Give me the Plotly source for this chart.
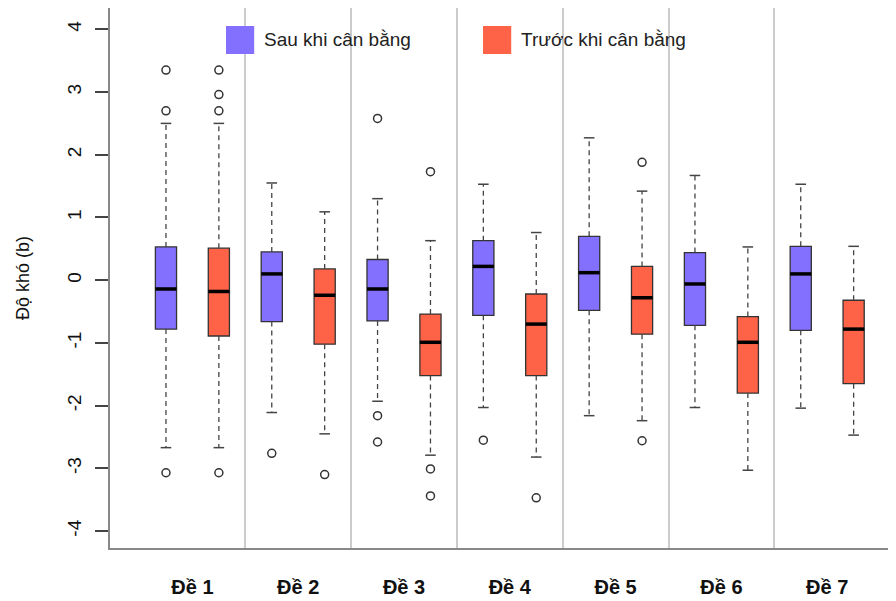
import plotly.graph_objects as go

# ---------------- data ----------------
groups = ["Đề 1", "Đề 2", "Đề 3", "Đề 4", "Đề 5", "Đề 6", "Đề 7"]
series_names = ["Sau khi cân bằng", "Trước khi cân bằng"]

after_q1 = [-0.78, -0.66, -0.65, -0.56, -0.48, -0.72, -0.80]
after_med = [-0.14, 0.10, -0.14, 0.22, 0.12, -0.06, 0.10]
after_q3 = [0.53, 0.45, 0.33, 0.63, 0.70, 0.44, 0.54]
after_lo = [-2.67, -2.11, -1.93, -2.03, -2.16, -2.03, -2.04]
after_hi = [2.50, 1.55, 1.30, 1.53, 2.27, 1.67, 1.53]
after_out = [[3.35, 2.70, -3.07], [-2.76], [2.58, -2.16, -2.58], [-2.55], [], [], []]

before_q1 = [-0.89, -1.02, -1.52, -1.52, -0.86, -1.80, -1.65]
before_med = [-0.18, -0.24, -0.99, -0.70, -0.28, -0.99, -0.78]
before_q3 = [0.51, 0.18, -0.54, -0.22, 0.22, -0.58, -0.32]
before_lo = [-2.67, -2.45, -2.79, -2.82, -2.24, -3.03, -2.47]
before_hi = [2.50, 1.09, 0.63, 0.76, 1.42, 0.53, 0.54]
before_out = [[3.35, 2.96, 2.70, -3.07], [-3.10], [1.73, -3.01, -3.44], [-3.47], [1.88, -2.56], [], []]

y_ticks = [-4, -3, -2, -1, 0, 1, 2, 3, 4]

# ---------------- styling ----------------
colors = ["#8470FF", "#FF6347"]
offsets = [-0.25, 0.25]
box_w = 0.2
cap_w = 0.1
FONT = "Arial, Liberation Sans, sans-serif"

fig = go.Figure()

datasets = [
    (after_q1, after_med, after_q3, after_lo, after_hi, after_out),
    (before_q1, before_med, before_q3, before_lo, before_hi, before_out),
]

centers = list(range(1, len(groups) + 1))

for s, (q1, med, q3, lo, hi, out) in enumerate(datasets):
    pos = [c + offsets[s] for c in centers]
    # whiskers (dashed)
    wx, wy = [], []
    for p, a, b, l, h in zip(pos, q1, q3, lo, hi):
        wx += [p, p, None, p, p, None]
        wy += [b, h, None, a, l, None]
    fig.add_trace(go.Scatter(x=wx, y=wy, mode="lines", showlegend=False,
                             line=dict(color="#444444", width=1.3, dash="5px,4px"),
                             hoverinfo="skip"))
    # staples
    cx, cy = [], []
    for p, l, h in zip(pos, lo, hi):
        cx += [p - cap_w / 2, p + cap_w / 2, None, p - cap_w / 2, p + cap_w / 2, None]
        cy += [h, h, None, l, l, None]
    fig.add_trace(go.Scatter(x=cx, y=cy, mode="lines", showlegend=False,
                             line=dict(color="#444444", width=1.5),
                             hoverinfo="skip"))
    # boxes
    fig.add_trace(go.Bar(x=pos, y=[b - a for a, b in zip(q1, q3)], base=q1,
                         width=box_w, name=series_names[s], showlegend=False,
                         marker=dict(color=colors[s], line=dict(color="#333333", width=1.3))))
    # medians
    mx, my = [], []
    for p, m in zip(pos, med):
        mx += [p - box_w / 2, p + box_w / 2, None]
        my += [m, m, None]
    fig.add_trace(go.Scatter(x=mx, y=my, mode="lines", showlegend=False,
                             line=dict(color="black", width=3.5), hoverinfo="skip"))
    # outliers
    ox, oy = [], []
    for p, vals in zip(pos, out):
        for v in vals:
            ox.append(p)
            oy.append(v)
    fig.add_trace(go.Scatter(x=ox, y=oy, mode="markers", showlegend=False,
                             marker=dict(symbol="circle-open", size=8, color="#333333",
                                         line=dict(width=1.5))))

# custom legend (paper coords)
leg_x = [0.1461, 0.4698]
for s in range(2):
    fig.add_shape(type="rect", xref="paper", yref="paper",
                  x0=leg_x[s], x1=leg_x[s] + 0.0355, y0=0.9148, y1=0.9667,
                  fillcolor=colors[s], line=dict(color=colors[s], width=0))
    fig.add_annotation(xref="paper", yref="paper", x=leg_x[s] + 0.0455, y=0.941,
                       xanchor="left", yanchor="middle", showarrow=False,
                       text=series_names[s], font=dict(family=FONT, size=19, color="#222222"))

fig.update_layout(
    width=896, height=601,
    margin=dict(l=102, r=0, t=0, b=61),
    plot_bgcolor="white", paper_bgcolor="white",
    barmode="overlay",
    showlegend=False,
    font=dict(family=FONT, color="#111111"),
)

fig.update_xaxes(
    range=[0.221, 7.726],
    automargin=False,
    tickmode="array", tickvals=centers, ticktext=groups,
    tickfont=dict(family=FONT, size=20, color="#111111", weight="bold"),
    ticks="", ticklabelstandoff=20,
    showgrid=False, zeroline=False,
    showline=True, linecolor="#888888", linewidth=2, mirror=True,
    minor=dict(tickvals=[c + 0.5 for c in centers[:-1]], showgrid=True,
               gridcolor="#cccccc", gridwidth=1.5, ticks=""),
)

fig.update_yaxes(
    range=[-4.27, 4.34],
    automargin=False,
    tickmode="array", tickvals=y_ticks, ticktext=[str(v) for v in y_ticks],
    tickangle=-90,
    tickfont=dict(family=FONT, size=19, color="#111111"),
    ticks="outside", ticklen=13, tickwidth=1.5, tickcolor="#444444",
    ticklabelstandoff=6,
    showgrid=False, zeroline=False,
    showline=True, linecolor="#888888", linewidth=2,
    title=dict(text="Độ khó (b)", font=dict(family=FONT, size=18, color="#111111"), standoff=30),
)

fig.write_html("out.html")
